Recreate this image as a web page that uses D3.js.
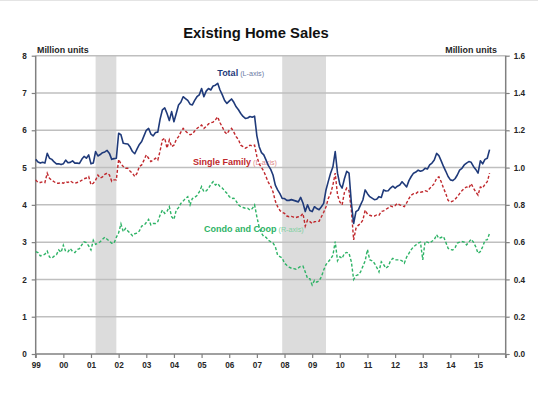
<!DOCTYPE html>
<html><head><meta charset="utf-8">
<script src="https://cdn.jsdelivr.net/npm/d3@7"></script>
<style>
html,body{margin:0;padding:0;background:#fff;}
svg{display:block;font-family:"Liberation Sans",Arial,sans-serif;}
</style></head>
<body>
<svg id="c" width="550" height="399"></svg>
<script>
// ---- data (monthly, Jan 1999 - Jun 2015, SAAR million units) ----
const startYear = 1999;
const yearLabels = ["99","00","01","02","03","04","05","06","07","08","09","10","11","12","13","14","15"];
const leftTicks = [0,1,2,3,4,5,6,7,8];
const rightTicks = [0.0,0.2,0.4,0.6,0.8,1.0,1.2,1.4,1.6];
const recessions = [["2001-03","2001-11"],["2007-12","2009-06"]];

const total = [
 5.22,5.15,5.12,5.14,5.12,5.38,5.25,5.22,5.15,5.10,5.10,5.08,
 5.10,5.20,5.13,5.14,5.18,5.12,5.12,5.11,5.22,5.30,5.25,5.34,
 5.10,5.12,5.43,5.31,5.35,5.40,5.42,5.46,5.38,5.22,5.24,5.25,
 5.92,5.88,5.65,5.64,5.63,5.55,5.43,5.37,5.50,5.62,5.70,5.85,
 6.00,6.05,5.90,5.85,5.94,5.95,6.30,6.55,6.60,6.45,6.26,6.50,
 6.23,6.45,6.68,6.75,6.90,6.85,6.80,6.70,6.68,6.80,6.90,6.95,
 7.12,6.90,7.05,7.12,7.08,7.19,7.21,7.26,7.08,6.95,6.80,6.72,
 6.78,6.84,6.75,6.63,6.55,6.45,6.37,6.32,6.33,6.37,6.35,6.38,
 5.85,5.56,5.40,5.34,5.20,5.05,4.95,4.80,4.53,4.40,4.30,4.17,
 4.17,4.12,4.12,4.14,4.12,4.10,4.08,4.20,4.05,3.82,4.00,3.85,
 3.82,3.95,3.90,3.87,3.95,4.04,4.40,4.63,4.85,5.02,5.43,4.85,
 4.55,4.45,4.70,4.90,4.85,4.06,3.50,3.82,3.86,4.00,4.13,4.40,
 4.30,4.22,4.18,4.14,4.15,4.22,4.20,4.40,4.37,4.38,4.45,4.50,
 4.45,4.50,4.53,4.62,4.55,4.48,4.65,4.76,4.85,4.88,4.93,4.90,
 4.92,4.98,4.96,5.07,5.12,5.20,5.38,5.32,5.18,5.03,4.90,4.76,
 4.67,4.65,4.70,4.80,4.93,4.98,5.07,5.12,5.16,5.14,5.03,4.95,
 4.85,5.18,5.10,5.22,5.25,5.48
];
const singleFamily = [
 4.67,4.60,4.60,4.62,4.60,4.85,4.71,4.66,4.62,4.58,4.58,4.60,
 4.58,4.62,4.60,4.64,4.60,4.58,4.60,4.62,4.66,4.70,4.72,4.76,
 4.54,4.58,4.66,4.80,4.72,4.75,4.82,4.85,4.80,4.63,4.67,4.67,
 5.22,5.10,5.03,4.98,4.98,4.90,4.85,4.76,4.85,5.03,5.07,5.20,
 5.34,5.25,5.16,5.20,5.25,5.20,5.45,5.74,5.79,5.52,5.74,5.56,
 5.60,5.75,5.83,5.95,6.05,5.98,5.92,5.88,5.90,5.98,6.05,6.10,
 6.14,6.05,6.10,6.17,6.20,6.22,6.28,6.36,6.20,6.09,5.96,5.90,
 6.00,6.05,5.95,5.83,5.75,5.60,5.56,5.52,5.55,5.60,5.58,5.60,
 5.30,5.10,5.00,4.90,4.75,4.60,4.50,4.35,4.10,3.95,3.85,3.80,
 3.77,3.70,3.68,3.69,3.67,3.66,3.68,3.70,3.77,3.43,3.59,3.55,
 3.50,3.55,3.55,3.56,3.68,3.80,3.95,4.17,4.30,4.53,4.85,4.26,
 4.08,4.00,4.33,4.45,4.38,3.86,3.06,3.37,3.45,3.50,3.59,3.86,
 3.75,3.72,3.70,3.70,3.73,3.72,3.82,3.84,3.88,3.92,3.97,3.95,
 3.98,4.04,4.00,3.98,3.95,4.05,4.17,4.26,4.30,4.30,4.35,4.34,
 4.35,4.38,4.36,4.44,4.50,4.57,4.71,4.75,4.62,4.45,4.30,4.12,
 4.08,4.10,4.15,4.22,4.30,4.38,4.44,4.48,4.45,4.57,4.45,4.35,
 4.26,4.48,4.45,4.55,4.62,4.85
];
const condoCoop = [
 0.549,0.544,0.526,0.530,0.535,0.552,0.520,0.514,0.525,0.532,0.558,0.545,
 0.584,0.550,0.548,0.566,0.550,0.544,0.560,0.565,0.585,0.602,0.598,0.580,
 0.558,0.610,0.588,0.595,0.602,0.615,0.626,0.615,0.605,0.594,0.594,0.626,
 0.650,0.698,0.656,0.674,0.660,0.648,0.634,0.645,0.648,0.660,0.686,0.690,
 0.705,0.722,0.692,0.700,0.700,0.710,0.746,0.772,0.754,0.765,0.790,0.736,
 0.722,0.772,0.785,0.808,0.820,0.834,0.844,0.800,0.834,0.840,0.850,0.870,
 0.898,0.870,0.875,0.888,0.910,0.924,0.906,0.914,0.898,0.890,0.875,0.862,
 0.845,0.834,0.836,0.820,0.800,0.790,0.786,0.782,0.782,0.772,0.780,0.800,
 0.736,0.680,0.648,0.630,0.626,0.610,0.602,0.595,0.576,0.530,0.522,0.515,
 0.487,0.476,0.466,0.460,0.458,0.455,0.462,0.470,0.472,0.440,0.405,0.404,
 0.370,0.395,0.385,0.392,0.414,0.450,0.480,0.495,0.510,0.530,0.603,0.500,
 0.522,0.513,0.540,0.545,0.540,0.495,0.400,0.420,0.425,0.440,0.470,0.500,
 0.560,0.505,0.500,0.487,0.465,0.440,0.495,0.480,0.460,0.470,0.500,0.513,
 0.505,0.505,0.505,0.500,0.487,0.520,0.540,0.560,0.575,0.585,0.595,0.600,
 0.505,0.603,0.600,0.595,0.605,0.613,0.640,0.620,0.625,0.630,0.600,0.567,
 0.560,0.558,0.570,0.595,0.600,0.603,0.600,0.585,0.600,0.616,0.600,0.575,
 0.540,0.550,0.575,0.610,0.613,0.648
];

// ---- layout ----
const svg = d3.select("#c");
const L = 35.7, R = 505.7, T = 55.7, B = 354;
const x = d3.scaleLinear().domain([1999, 2016]).range([L, R]);
const yL = d3.scaleLinear().domain([0, 8]).range([B, T]);
const yR = d3.scaleLinear().domain([0, 1.6]).range([B, T]);
const t = i => startYear + i / 12;
const ym = s => { const [a,b] = s.split("-").map(Number); return a + (b - 1) / 12; };

// top frame line
svg.append("line").attr("x1",0).attr("x2",538).attr("y1",0.5).attr("y2",0.5)
  .attr("stroke","#e4e4e4").attr("stroke-width",1);

// recession shading
svg.append("g").selectAll("rect").data(recessions).join("rect")
  .attr("x", d => x(ym(d[0])))
  .attr("width", d => x(ym(d[1]) + 1/12) - x(ym(d[0])))
  .attr("y", T).attr("height", B - T)
  .attr("fill", "#dcdcdc");

// gridlines
svg.append("g").selectAll("line").data(leftTicks.filter(v => v > 0)).join("line")
  .attr("x1", L).attr("x2", R).attr("y1", d => yL(d)).attr("y2", d => yL(d))
  .attr("stroke", "#bfbfbf").attr("stroke-width", 1.5);

// axes
const gl = svg.append("g").attr("transform", `translate(${L},0)`)
  .call(d3.axisLeft(yL).tickValues(leftTicks).tickFormat(d3.format("d")).tickSize(4).tickPadding(5));
const gr = svg.append("g").attr("transform", `translate(${R},0)`)
  .call(d3.axisRight(yR).tickValues(rightTicks).tickFormat(d3.format(".1f")).tickSize(4).tickPadding(4));
const gb = svg.append("g").attr("transform", `translate(0,${B})`)
  .call(d3.axisBottom(x).tickValues(d3.range(1999, 2017)).tickFormat(d => d < 2016 ? yearLabels[d - 1999] : "").tickSize(4).tickPadding(4));
[gl, gr, gb].forEach(g => {
  g.selectAll("path.domain").attr("stroke", "#808080").attr("stroke-width", 1.5);
  g.selectAll(".tick line").attr("stroke", "#808080").attr("stroke-width", 1.2);
  g.selectAll(".tick text").attr("font-size", 8.2).attr("font-weight", "bold").attr("fill", "#262626")
    .attr("font-family", '"Liberation Sans",Arial,sans-serif');
});
gl.select("path.domain").attr("d", `M0,${T}V${B + 4}`);
gr.select("path.domain").attr("d", `M0,${T}V${B + 4}`);
gb.select("path.domain").attr("d", `M${L},0H${R}`);

// lines
const lineL = d3.line().x((d, i) => x(t(i))).y(d => yL(d));
const lineR = d3.line().x((d, i) => x(t(i))).y(d => yR(d));
svg.append("path").datum(condoCoop).attr("d", lineR).attr("fill", "none")
  .attr("stroke", "#2eb366").attr("stroke-width", 1.4).attr("stroke-dasharray", "3,2");

// labels (drawn under the single-family/total lines)
function label(xp, yp, main, sub, c1, c2) {
  const tx = svg.append("text").attr("x", xp).attr("y", yp);
  tx.append("tspan").attr("font-size", 9).attr("font-weight", "bold").attr("fill", c1).text(main);
  tx.append("tspan").attr("font-size", 7.2).attr("fill", c2).attr("dx", 2).text(sub);
}
label(217.3, 75.7, "Total", "(L-axis)", "#1f3a7a", "#6b7aa3");
label(193, 165, "Single Family", "(L-axis)", "#c0282d", "#e08a8a");
label(204, 231.5, "Condo and Coop", "(R-axis)", "#2eb366", "#7fd0a2");

svg.append("path").datum(singleFamily).attr("d", lineL).attr("fill", "none")
  .attr("stroke", "#c0282d").attr("stroke-width", 1.4).attr("stroke-dasharray", "3,2");
svg.append("path").datum(total).attr("d", lineL).attr("fill", "none")
  .attr("stroke", "#1f3a7a").attr("stroke-width", 1.6).attr("stroke-linejoin", "round");

// text
svg.append("text").attr("x", 256).attr("y", 37.7).attr("text-anchor", "middle")
  .attr("font-size", 14.8).attr("font-weight", "bold").attr("fill", "#111").text("Existing Home Sales");
svg.append("text").attr("x", 37).attr("y", 52.5).attr("font-size", 8.9).attr("font-weight", "bold")
  .attr("fill", "#262626").text("Million units");
svg.append("text").attr("x", 497).attr("y", 52.5).attr("text-anchor", "end").attr("font-size", 8.9)
  .attr("font-weight", "bold").attr("fill", "#262626").text("Million units");
</script>
</body></html>
